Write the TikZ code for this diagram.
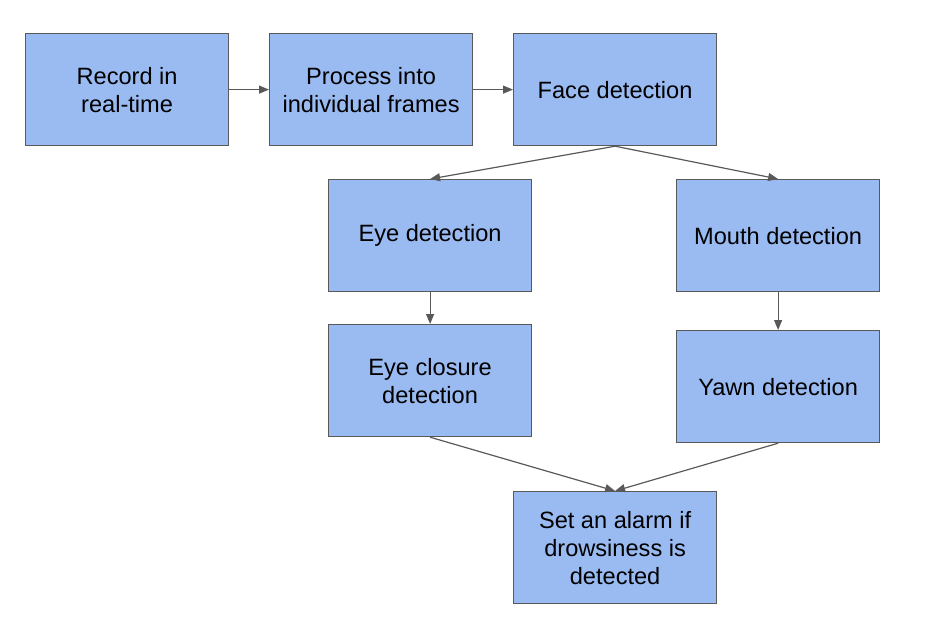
\documentclass[tikz,border=0pt]{standalone}
\usepackage{fontspec}
\setmainfont{Liberation Sans}
\usetikzlibrary{arrows.meta}
\definecolor{boxfill}{HTML}{9ABAF2}
\definecolor{edge}{HTML}{595959}
\begin{document}
\begin{tikzpicture}[x=1pt,y=-1pt,
  stepbox/.style={draw=edge,line width=1.2pt,fill=boxfill,minimum width=203pt,minimum height=112pt,align=center,inner sep=2pt,font=\fontsize{23.6}{28}\selectfont,anchor=north west},
  link/.style={draw=edge,line width=1.2pt,-{Triangle[length=10pt,width=8pt]}}]
\useasboundingbox (0,0) rectangle (932,618);
\node[stepbox] (rec) at (25,33) {Record in\\real-time};
\node[stepbox] (proc) at (269,33) {Process into\\individual frames};
\node[stepbox] (face) at (513,33) {Face detection};
\node[stepbox] (eye) at (328,179) {Eye detection};
\node[stepbox] (mouth) at (676,179) {Mouth detection};
\node[stepbox] (close) at (328,324) {Eye closure\\detection};
\node[stepbox] (yawn) at (676,330) {Yawn detection};
\node[stepbox] (alarm) at (513,491) {Set an alarm if\\drowsiness is\\detected};
\draw[link] (rec.east) -- (proc.west);
\draw[link] (proc.east) -- (face.west);
\draw[link] (face.south) -- (eye.north);
\draw[link] (face.south) -- (mouth.north);
\draw[link] (eye.south) -- (close.north);
\draw[link] (mouth.south) -- (yawn.north);
\draw[link] (close.south) -- (alarm.north);
\draw[link] (yawn.south) -- (alarm.north);
\end{tikzpicture}
\end{document}
